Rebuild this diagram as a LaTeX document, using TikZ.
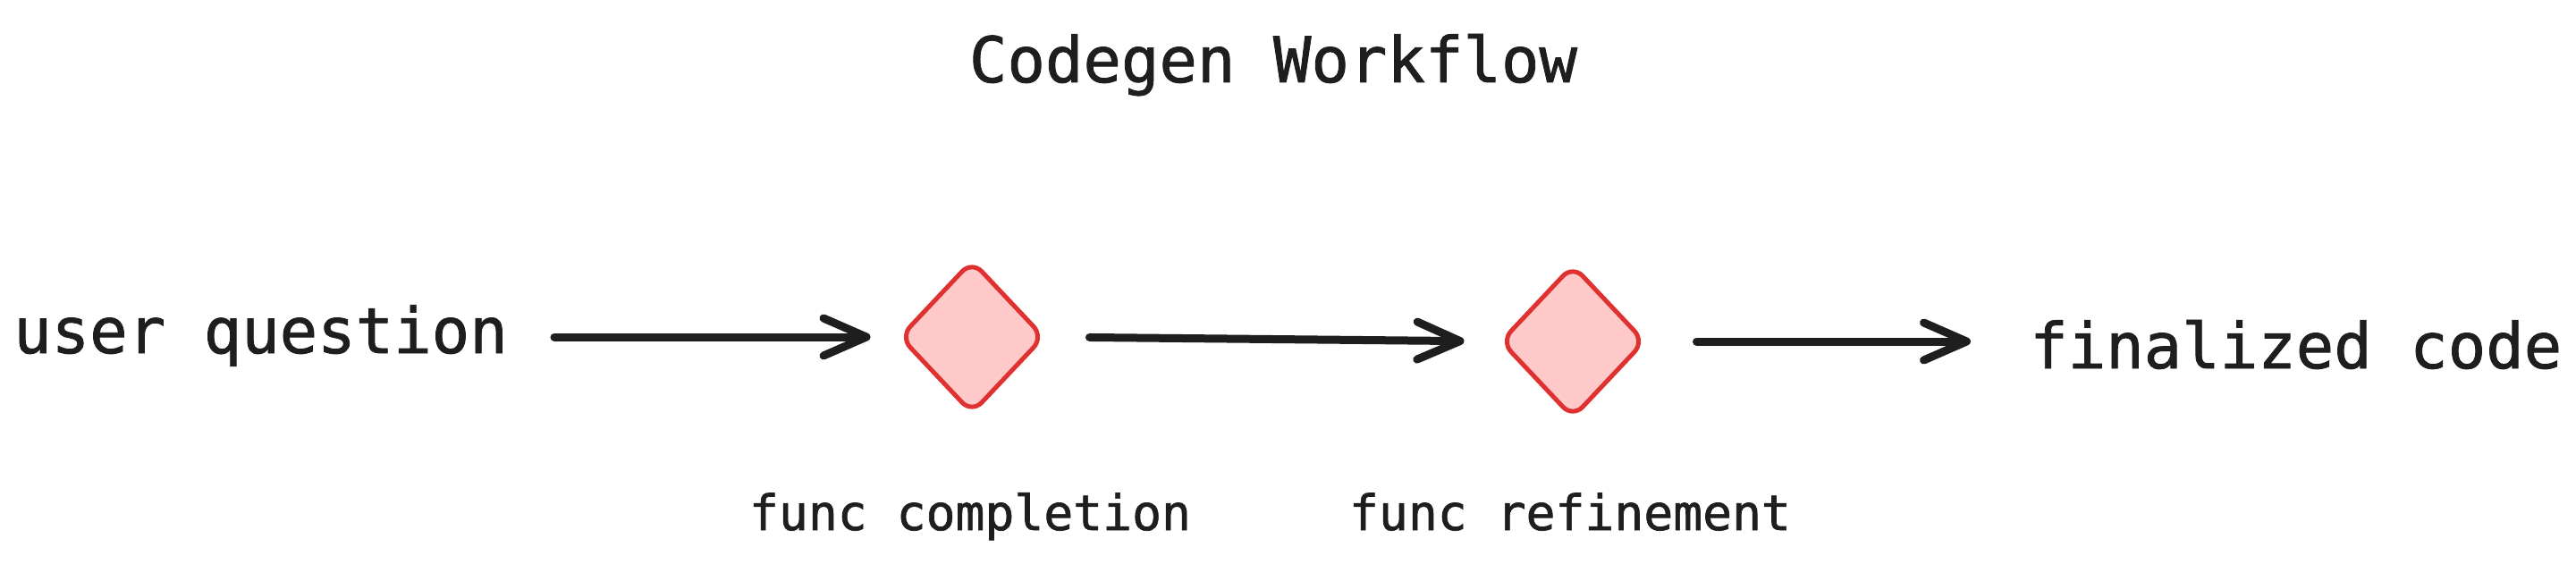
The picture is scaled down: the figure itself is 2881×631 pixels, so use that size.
\documentclass[tikz,border=0pt]{standalone}
\usepackage{fontspec}
\newfontfamily\mono[FakeBold=1.2]{DejaVu Sans Mono}
\usetikzlibrary{shapes.geometric,arrows.meta}
\definecolor{ink}{HTML}{1E1E1E}
\definecolor{dstroke}{HTML}{E03131}
\definecolor{dfill}{HTML}{FFC9C9}
\begin{document}
\begin{tikzpicture}[x=1pt,y=-1pt,
  bigtext/.style={inner sep=0pt,text=ink,font=\mono\fontsize{70.6}{80}\selectfont},
  smalltext/.style={inner sep=0pt,text=ink,font=\mono\fontsize{54.7}{62}\selectfont},
  decision/.style={diamond,draw=dstroke,fill=dfill,line width=5pt,inner sep=0pt,
    minimum width=162pt,minimum height=172pt,rounded corners=16pt},
  flow/.style={draw=ink,line width=9pt,line cap=round,line join=round,
    -{Straight Barb[length=48pt,width=42pt,line width=9pt,round]}}]
\useasboundingbox (0,0) rectangle (2881,631);
\node[bigtext,anchor=base] (title) at (1424,92) {Codegen Workflow};
\node[bigtext,anchor=base west] (uq) at (15,395) {user question};
\node[decision] (d1) at (1087,377) {};
\node[decision] (d2) at (1759,382) {};
\node[bigtext,anchor=base west] (fc) at (2270,412) {finalized code};
\node[smalltext,anchor=base] (l1) at (1085,593) {func completion};
\node[smalltext,anchor=base] (l2) at (1756,593) {func refinement};
\draw[flow,shorten <=52pt,shorten >=30pt] (uq.east |- d1.west) -- (d1.west);
\draw[flow,shorten <=48pt,shorten >=38pt] (d1.east) -- (d2.west);
\draw[flow,shorten <=55pt,shorten >=66pt] (d2.east) -- (d2.east -| fc.west);
\end{tikzpicture}
\end{document}
